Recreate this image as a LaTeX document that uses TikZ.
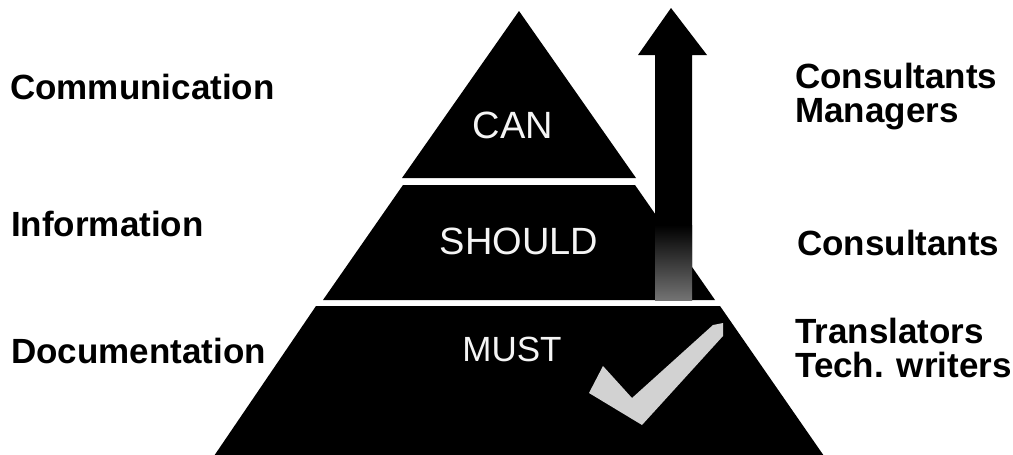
\documentclass[tikz,border=0pt]{standalone}
\usepackage{fontspec}
\setmainfont{Liberation Sans}
\usetikzlibrary{calc}
\begin{document}
\begin{tikzpicture}[x=1pt,y=-1pt,
  side/.style={font=\bfseries\fontsize{35}{35}\selectfont, anchor=base west, inner sep=0pt},
  level/.style={font=\fontsize{38}{38}\selectfont, text=gray!8, anchor=base, inner sep=0pt},
  block/.style={fill=black, draw=none}]
\useasboundingbox (0,0) rectangle (1013,455);
% pyramid layers
\fill[block] (519,11) -- (636,178) -- (402,178) -- cycle;
\fill[block] (403,185) -- (635,185) -- (715,300) -- (323,300) -- cycle;
\fill[block] (316,306) -- (720,306) -- (824,456) -- (214,456) -- cycle;
% arrow
\coordinate (tip) at (671,8);
\fill[black] (tip) -- (707,55) -- (692,55) -- (692,300) -- (655,300) -- (655,55) -- (638,55) -- cycle;
\shade[top color=black, bottom color=black!55] (655,225) rectangle (692,300);
% check mark
\fill[gray!35] (603,366) -- (632,398) -- (713,325) -- (723,323) -- (723,336) -- (642,425) -- (589,393) -- cycle;
% inner labels
\node[level] (can) at (513,138) {CAN};
\node[level] (should) at (519,254) {SHOULD};
\node[level, font=\fontsize{35}{35}\selectfont] (must) at (512,361) {MUST};
% left labels
\node[side] (comm) at (10,99) {Communication};
\node[side] (info) at (11,236) {Information};
\node[side] (doc) at (11,363) {Documentation};
% right labels
\node[side] (cons1) at (795,88) {Consultants};
\node[side] (mgr) at (795,122) {Managers};
\node[side] (cons2) at (797,255) {Consultants};
\node[side] (trans) at (795,343) {Translators};
\node[side] (tech) at (795,377) {Tech. writers};
\end{tikzpicture}
\end{document}
